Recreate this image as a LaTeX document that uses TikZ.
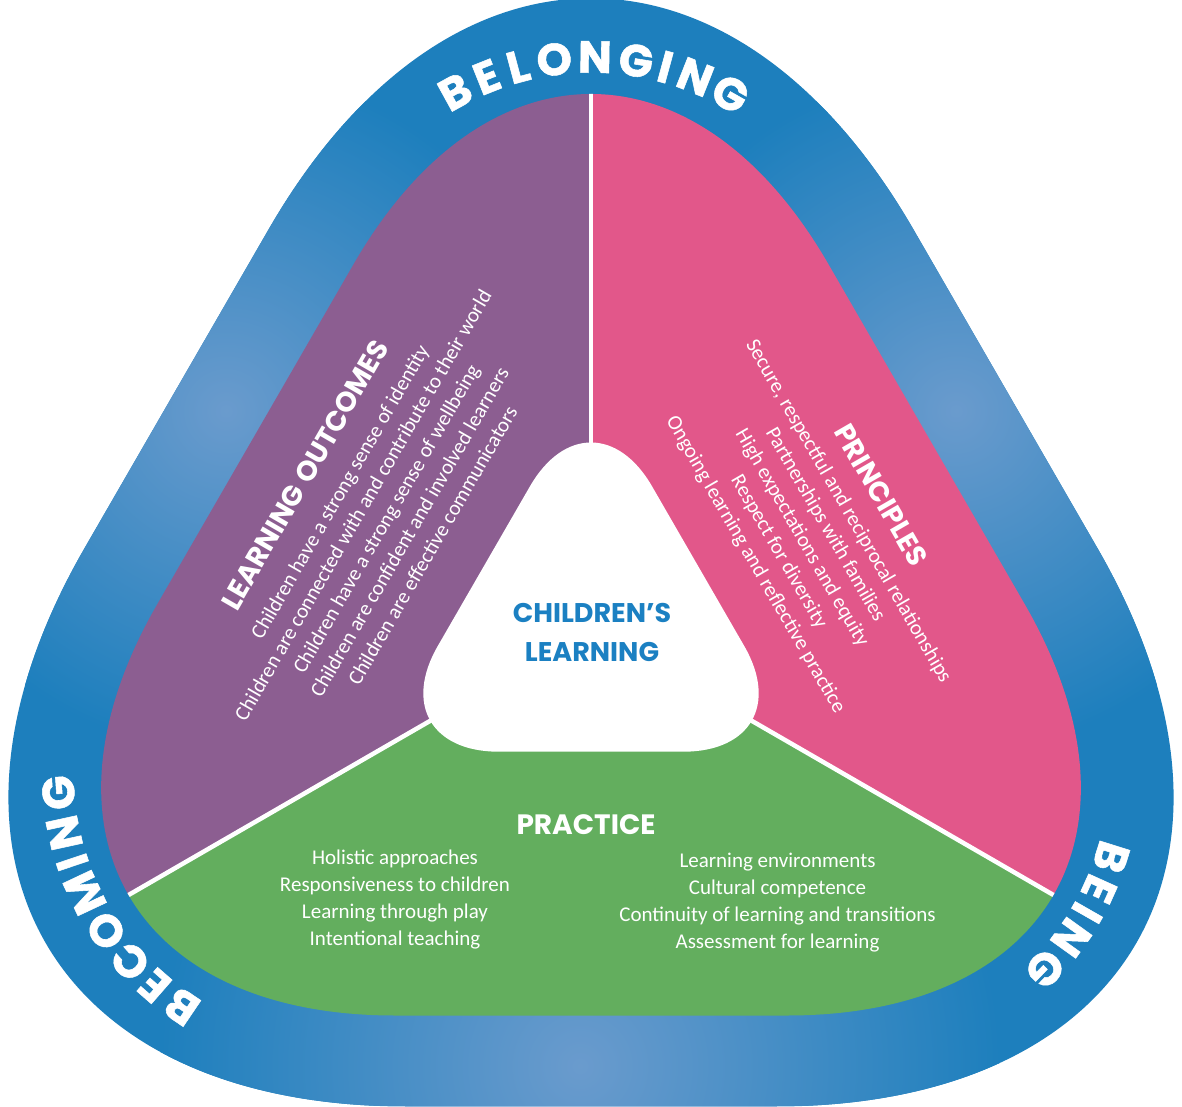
\documentclass[tikz,border=0pt]{standalone}
\usepackage{fontspec}
\setmainfont{Carlito}
\newfontfamily\headfont{Poppins}
\newfontfamily\letterfont[BoldFeatures={FakeBold=1.2}]{Poppins}
\usetikzlibrary{calc}
\definecolor{bandblue}{HTML}{1D7FBD}
\definecolor{glare}{HTML}{6A9BCD}
\definecolor{lopurple}{HTML}{8C5E91}
\definecolor{prpink}{HTML}{E2578A}
\definecolor{pcgreen}{HTML}{63AE5E}
\definecolor{ctrblue}{HTML}{1B80C2}
% rounded equilateral triangle: vertices #1 (top), #2 (right), #3 (left); tangent length #4, control length #5
\newcommand\RTri[5]{($(#1)!#4!(#3)$) .. controls ($(#1)!#5!(#3)$) and ($(#1)!#5!(#2)$) .. ($(#1)!#4!(#2)$) -- ($(#2)!#4!(#1)$) .. controls ($(#2)!#5!(#1)$) and ($(#2)!#5!(#3)$) .. ($(#2)!#4!(#3)$) -- ($(#3)!#4!(#2)$) .. controls ($(#3)!#5!(#2)$) and ($(#3)!#5!(#1)$) .. ($(#3)!#4!(#1)$) -- cycle}
\tikzset{
  letter/.style={font=\letterfont\bfseries\fontsize{45}{45}\selectfont, text=white, inner sep=0pt},
  head/.style={font=\headfont\bfseries\fontsize{28}{30}\selectfont, text=white, inner sep=0pt},
  body/.style={font=\fontsize{21}{26.8}\selectfont, text=white, align=center, inner sep=0pt},
  divider/.style={white, line width=4.5pt},
}
\begin{document}
\begin{tikzpicture}[x=1pt,y=1pt]
\useasboundingbox (0,0) rectangle (1182,1106);
\clip (0,0) rectangle (1182,1106);
\fill[white] (0,0) rectangle (1182,1106);
\coordinate (O) at (591,478);
\coordinate (oT) at ($(O)+(90:957)$);
\coordinate (oR) at ($(O)+(-30:957)$);
\coordinate (oL) at ($(O)+(210:957)$);
\coordinate (iT) at ($(O)+(90:775)$);
\coordinate (iR) at ($(O)+(-30:775)$);
\coordinate (iL) at ($(O)+(210:775)$);
\coordinate (wT) at ($(O)+(90:247.4)$);
\coordinate (wR) at ($(O)+(-30:247.4)$);
\coordinate (wL) at ($(O)+(210:247.4)$);
\coordinate (cT) at ($(O)+(90:289)$);
\coordinate (cR) at ($(O)+(-30:289)$);
\coordinate (cL) at ($(O)+(210:289)$);
% outer band
\begin{scope}
  \clip \RTri{oT}{oR}{oL}{645pt}{288.8pt};
  \fill[bandblue] (0,0) rectangle (1182,1106);
  \shade[inner color=glare, outer color=bandblue] (580,40) circle (420);
  \shade[inner color=glare, outer color=bandblue] (226,695) circle (340);
  \shade[inner color=glare, outer color=bandblue] (956,695) circle (340);
\end{scope}
% three sectors
\begin{scope}
  \clip \RTri{iT}{iR}{iL}{475pt}{212.7pt};
  \fill[lopurple] (O) -- ($(O)+(90:1600)$) -- ($(O)+(150:1600)$) -- ($(O)+(210:1600)$) -- cycle;
  \fill[prpink] (O) -- ($(O)+(90:1600)$) -- ($(O)+(30:1600)$) -- ($(O)+(-30:1600)$) -- cycle;
  \fill[pcgreen] (O) -- ($(O)+(210:1600)$) -- ($(O)+(270:1600)$) -- ($(O)+(330:1600)$) -- cycle;
  \draw[divider] (O) -- ($(O)+(90:1600)$);
  \draw[divider] (O) -- ($(O)+(210:1600)$);
  \draw[divider] (O) -- ($(O)+(330:1600)$);
\end{scope}
% centre
\fill[white] \RTri{wT}{wR}{wL}{122pt}{54.6pt};
\node[head, text=ctrblue, align=center, font=\headfont\bfseries\fontsize{27}{39}\selectfont] (cl) at (592,474) {CHILDREN’S\\LEARNING};
% curved words
\foreach \ch/\an [count=\i] in {B/118.8, E/111.7, L/105, O/97.5, N/89.2, G/80.8, I/74.7, N/68.3, G/60.4}
  \node[letter, rotate=\an-90] (bel\i) at ($(cT)+(\an:282)$) {\ch};
\foreach \ch/\an [count=\i] in {B/-17.4, E/-24.3, I/-29.7, N/-35.7, G/-43.9}
  \node[letter, rotate=\an-90] (bei\i) at ($(cR)+(\an:283)$) {\ch};
\foreach \ch/\an [count=\i] in {B/235.9, E/228.9, C/221.9, O/214, M/205.2, I/198.5, N/192.3, G/184.1}
  \node[letter, rotate=\an-90] (bec\i) at ($(cL)+(\an:283)$) {\ch};
% learning outcomes
\node[head, rotate=60] (loh) at (305,631) {LEARNING\hspace{0.25em}OUTCOMES};
\node[body, rotate=60] (lob) at (386,587.5) {Children have a strong sense of identity\\Children are connected with and contribute to their world\\Children have a strong sense of wellbeing\\Children are confident and involved learners\\Children are effective communicators};
% principles
\node[head, rotate=-60] (prh) at (881,611) {PRINCIPLES};
\node[body, rotate=-60] (prb) at (801.75,567.75) {Secure, respectful and reciprocal relationships\\Partnerships with families\\High expectations and equity\\Respect for diversity\\Ongoing learning and reflective practice};
% practice
\node[head] (pch) at (586,281) {PRACTICE};
\node[body] (pcl) at (395,206.5) {Holistic approaches\\Responsiveness to children\\Learning through play\\Intentional teaching};
\node[body] (pcr) at (777.5,203.5) {Learning environments\\Cultural competence\\Continuity of learning and transitions\\Assessment for learning};
\end{tikzpicture}
\end{document}
